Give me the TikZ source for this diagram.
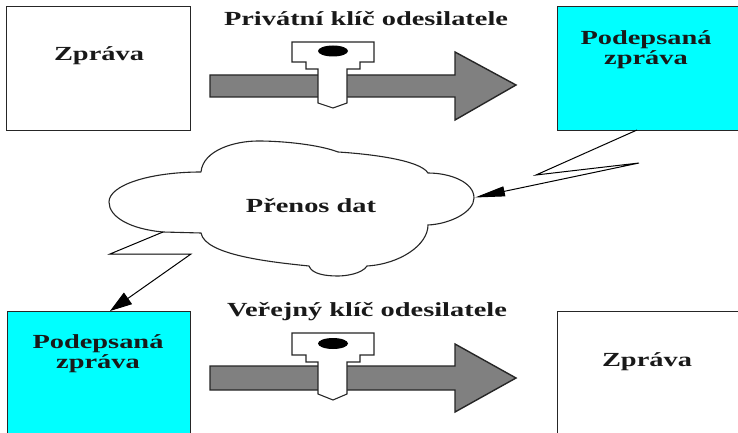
\documentclass[tikz,border=0pt]{standalone}
\usepackage{fontspec}
\setmainfont{Liberation Serif}
\usetikzlibrary{arrows.meta}
\definecolor{sigcyan}{RGB}{0,255,255}
\tikzset{
  x=1pt,y=-1pt,
  msgbox/.style={draw=black!85,line width=1.4pt,rectangle,anchor=north west,inner sep=0pt},
  plainbox/.style={msgbox,fill=white},
  signedbox/.style={msgbox,fill=sigcyan},
  label/.style={font=\bfseries\fontsize{20}{20}\selectfont,xscale=1.42,align=center,text=black!90,inner sep=0pt},
  bigarrow/.style={draw=black!85,line width=1.4pt,fill=black!50,line join=miter},
  keyshape/.style={draw=black!85,line width=1.1pt,fill=white},
  keyhole/.style={fill=black,draw=none},
  cloudline/.style={draw=black!85,line width=1.1pt,fill=white},
  bolt/.style={draw=black,line width=1pt,line join=miter},
}
\begin{document}
\begin{tikzpicture}
\useasboundingbox (0,0) rectangle (738,433);
\clip (0,0) rectangle (738,433);
\fill[white] (0,0) rectangle (738,433);

% boxes
\node[plainbox,minimum width=184pt,minimum height=124pt] (msgA) at (6,6) {};
\node[signedbox,minimum width=200pt,minimum height=124pt] (sigA) at (557,6) {};
\node[signedbox,minimum width=183pt,minimum height=140pt] (sigB) at (7,311) {};
\node[plainbox,minimum width=200pt,minimum height=140pt] (msgB) at (557,311) {};

% top arrow + key
\draw[bigarrow] (210,75) -- (455,75) -- (455,52) -- (516,85) -- (455,120) -- (455,97) -- (210,97) -- cycle;
\draw[keyshape] (292,42) -- (374,42) -- (374,62) -- (360,62) -- (360,69) -- (347,69) -- (347,103) -- (333,108) -- (318,103) -- (318,69) -- (306,69) -- (306,62) -- (292,62) -- cycle;
\fill[keyhole] (333,51) ellipse [x radius=15,y radius=5.5];

% bottom arrow + key
\draw[bigarrow] (210,366) -- (455,366) -- (455,344) -- (516,378) -- (455,412) -- (455,390) -- (210,390) -- cycle;
\draw[keyshape] (292,333) -- (374,333) -- (374,355) -- (360,355) -- (360,362) -- (347,362) -- (347,394) -- (333,400) -- (318,394) -- (318,362) -- (306,362) -- (306,355) -- (292,355) -- cycle;
\fill[keyhole] (333,343.5) ellipse [x radius=15,y radius=5.5];

% cloud
\draw[cloudline]
  (201,172) .. controls (203,150) and (235,141) .. (258,141)
  .. controls (285,141) and (320,145) .. (338,152)
  .. controls (370,154) and (420,160) .. (428,173)
  .. controls (450,173) and (474,182) .. (474,198)
  .. controls (474,212) and (450,224) .. (428,225)
  .. controls (428,245) and (400,264) .. (367,266)
  .. controls (362,274) and (345,276) .. (338,276)
  .. controls (325,276) and (312,274) .. (309,266)
  .. controls (270,262) and (205,255) .. (201,233)
  -- (163,232)
  .. controls (130,229) and (109,217) .. (109,202)
  .. controls (109,185) and (150,172) .. (201,172);

% lightning connectors
\coordinate (boltAstart) at (637,130);
\coordinate (boltAa) at (536,175);
\coordinate (boltAb) at (639,163);
\coordinate (cloudR) at (475,197.5);
\coordinate (boltBstart) at (163,232);
\coordinate (boltBa) at (110,254);
\coordinate (boltBb) at (191,254);
\coordinate (sigBtop) at (110,311);
\draw[bolt,-{Triangle[length=30pt,width=10pt]}] (boltAstart) -- (boltAa) -- (boltAb) -- (cloudR);
\draw[bolt,-{Triangle[length=22pt,width=14pt]}] (boltBstart) -- (boltBa) -- (boltBb) -- (sigBtop);

% labels
\node[label] (t1) at (366,19) {Privátní klíč odesilatele};
\node[label] (t2) at (367,312) {Veřejný klíč odesilatele};
\node[label] (t3) at (99,56) {Zpráva};
\node[label] (t4) at (646,50) {Podepsaná\\zpráva};
\node[label] (t5) at (98,354) {Podepsaná\\zpráva};
\node[label] (t6) at (647,362) {Zpráva};
\node[label] (t7) at (311,206) {Přenos dat};
\end{tikzpicture}
\end{document}
